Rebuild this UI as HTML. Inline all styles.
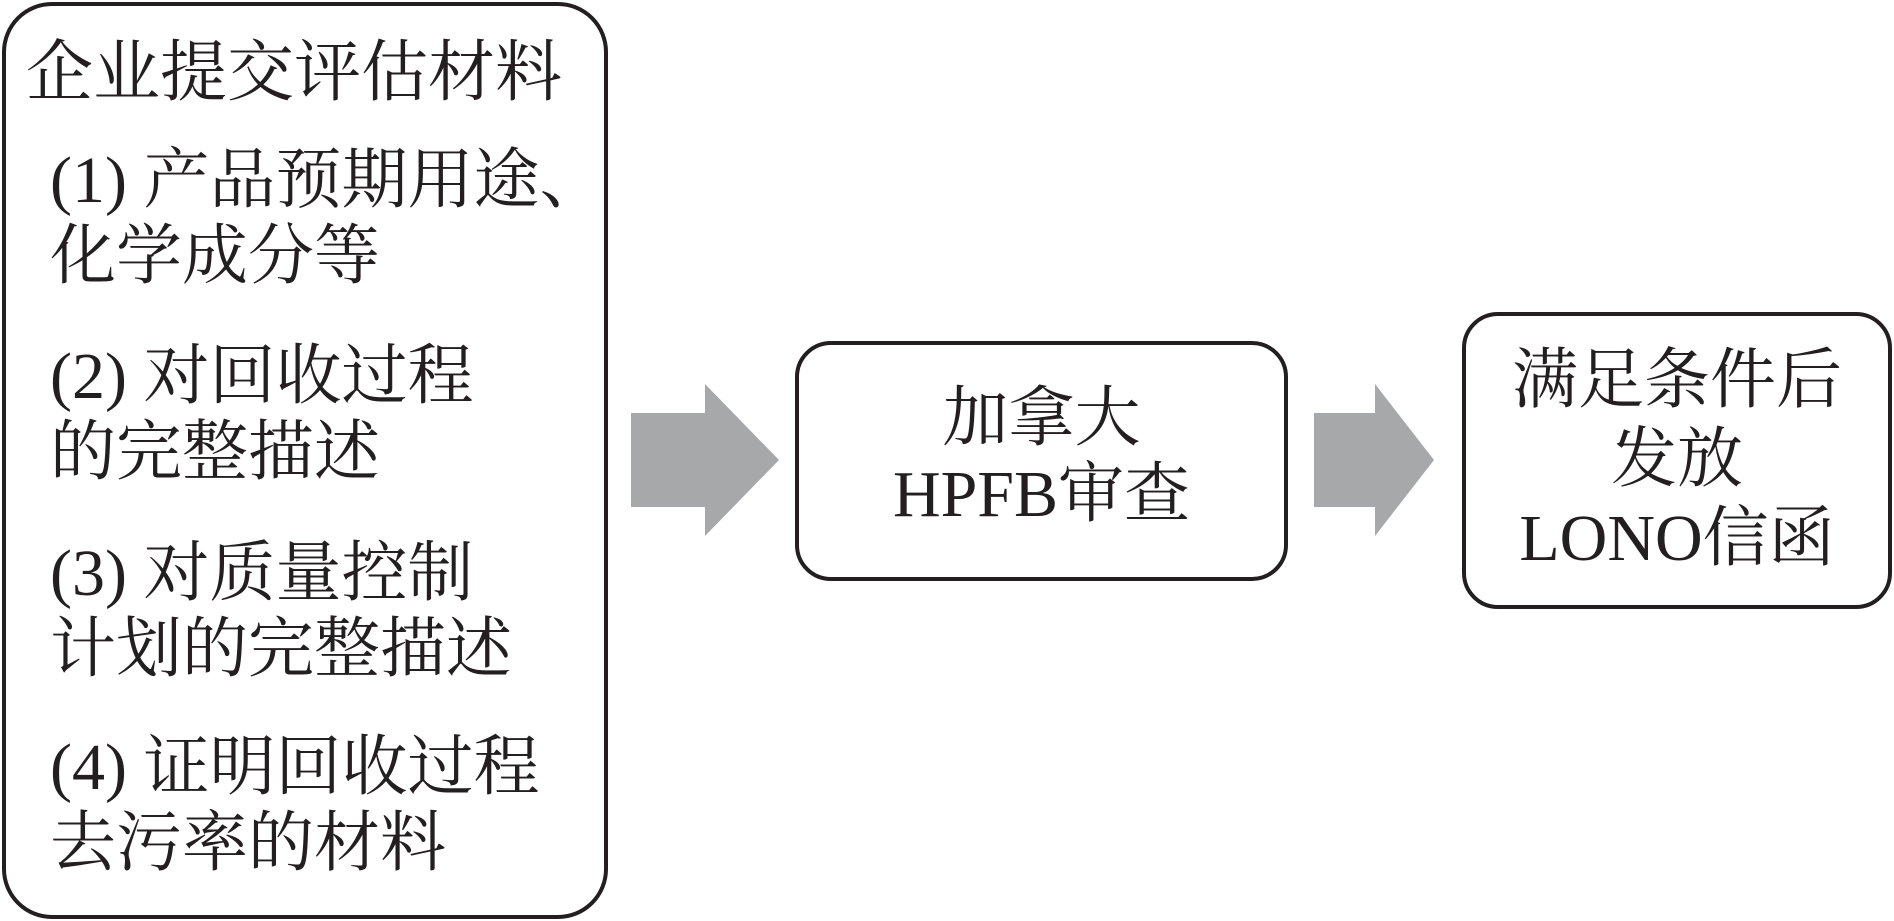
<!DOCTYPE html>
<html><head><meta charset="utf-8"><style>
body{margin:0;width:1894px;height:921px;background:#fff;position:relative;overflow:hidden;font-family:"Liberation Serif","Noto Serif CJK SC",serif;color:#231f20}
.box{position:absolute;border:4px solid #231f20;border-radius:46px;box-sizing:border-box}
.t{position:absolute;white-space:nowrap;font-size:66px;line-height:76px}
.c{text-align:center;left:0;right:0}
</style></head><body>
<div class="box" style="left:2px;top:2px;width:606px;height:917px;border-radius:50px"></div>
<div class="t" style="left:26px;top:35px;font-size:67px">企业提交评估材料</div>
<div class="t" style="left:50px;top:143px">(1) 产品预期用途、<br>化学成分等</div>
<div class="t" style="left:50px;top:339px">(2) 对回收过程<br>的完整描述</div>
<div class="t" style="left:50px;top:536px">(3) 对质量控制<br>计划的完整描述</div>
<div class="t" style="left:50px;top:730px">(4) 证明回收过程<br>去污率的材料</div>
<svg style="position:absolute;left:0;top:0" width="1894" height="921">
<polygon points="631,413 705,413 705,384 779,460 705,536 705,507 631,507" fill="#a7a8aa"/>
<polygon points="1314,413 1375,413 1375,384 1434,460 1375,536 1375,507 1314,507" fill="#a7a8aa"/>
</svg>
<div class="box" style="left:795px;top:341px;width:493px;height:240px;border-radius:36px">
<div class="t c" style="top:36px">加拿大<br>HPFB审查</div></div>
<div class="box" style="left:1462px;top:312px;width:430px;height:297px;border-radius:36px">
<div class="t c" style="top:25px;line-height:79px">满足条件后<br>发放<br>LONO信函</div></div>
</body></html>
